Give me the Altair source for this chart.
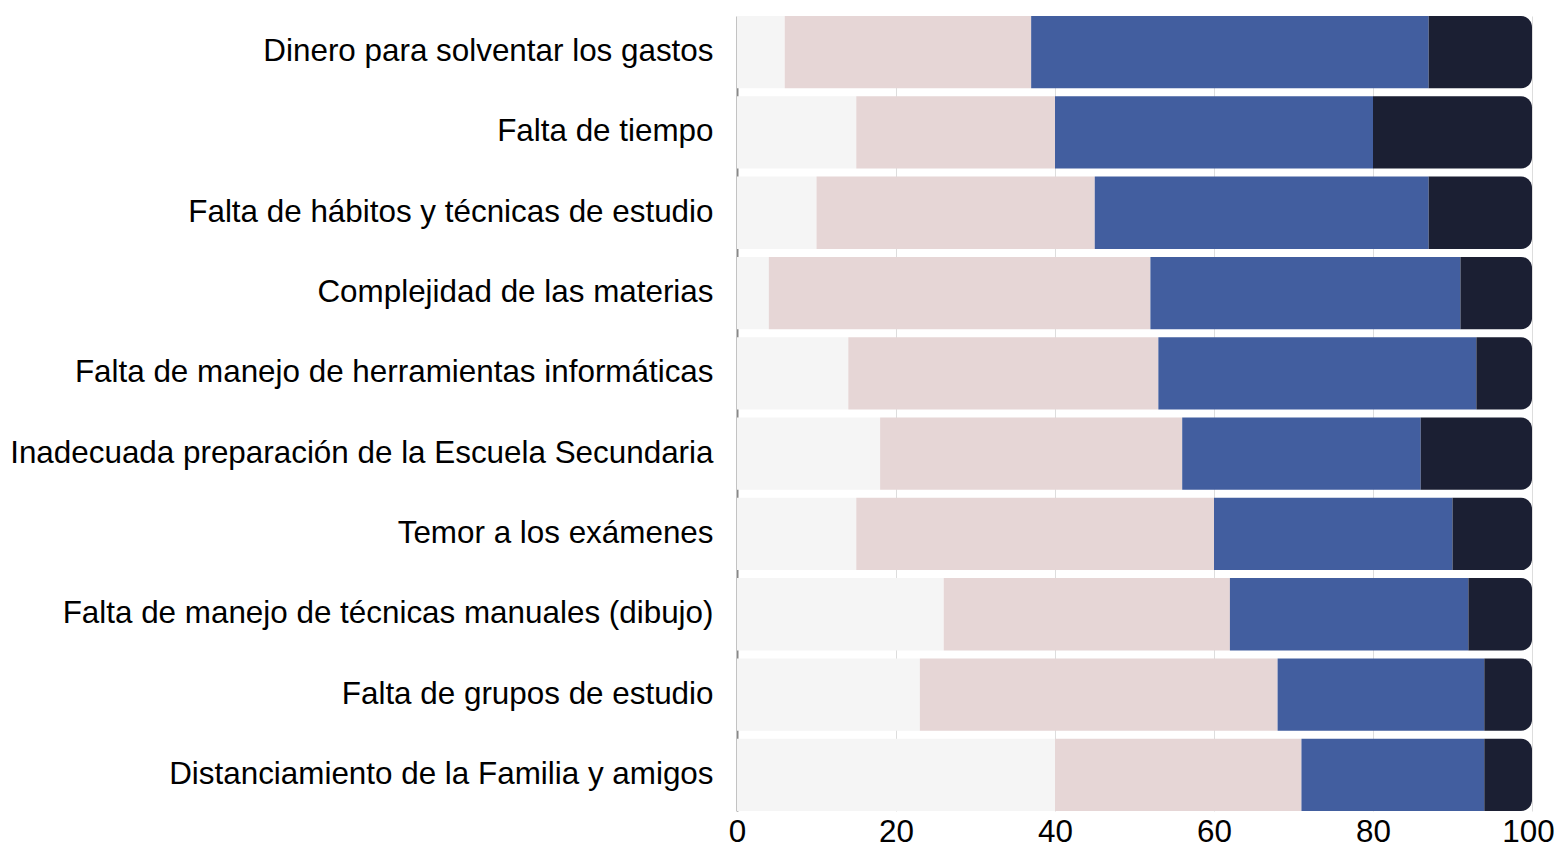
import altair as alt
import pandas as pd

causes = [
    "Dinero para solventar los gastos",
    "Falta de tiempo",
    "Falta de hábitos y técnicas de estudio",
    "Complejidad de las materias",
    "Falta de manejo de herramientas informáticas",
    "Inadecuada preparación de la Escuela Secundaria",
    "Temor a los exámenes",
    "Falta de manejo de técnicas manuales (dibujo)",
    "Falta de grupos de estudio",
    "Distanciamiento de la Familia y amigos",
]
levels = ["Nada", "Poco", "Bastante", "Mucho"]
nada = [6, 15, 10, 4, 14, 18, 15, 26, 23, 40]
poco = [31, 25, 35, 48, 39, 38, 45, 36, 45, 31]
bastante = [50, 40, 42, 39, 40, 30, 30, 30, 26, 23]
mucho = [13, 20, 13, 9, 7, 14, 10, 8, 6, 6]
x_ticks = [0, 20, 40, 60, 80, 100]
colors = ["#f5f5f5", "#e6d6d6", "#425e9f", "#1b1f33"]

rows = []
for i, c in enumerate(causes):
    for j, (lev, vals) in enumerate(zip(levels, [nada, poco, bastante, mucho])):
        rows.append({"cause": c, "level": lev, "order": j, "value": vals[i]})
df = pd.DataFrame(rows)

FONT = "Liberation Sans"

base = alt.Chart(df).transform_stack(
    stack="value", groupby=["cause"], as_=["x0", "x1"], sort=[{"field": "order"}]
)

x = alt.X("x0:Q", scale=alt.Scale(domain=[0, 100], nice=False),
          axis=alt.Axis(values=x_ticks, title=None, domain=False,
                        ticks=False, labelFontSize=31.4, labelFont=FONT, labelColor="#000",
                        labelPadding=5, grid=True, gridColor="#dddddd", gridWidth=1,
                        labelFlush=False,
                        labelOffset={"condition": {"test": "datum.value == 100", "value": -4},
                                     "value": 0}))
y = alt.Y("cause:N", sort=causes, scale=alt.Scale(paddingInner=0.1, paddingOuter=0),
          axis=alt.Axis(title=None, ticks=False, domain=True, domainColor="#888888",
                        domainWidth=2, labelFontSize=31.4, labelFont=FONT, labelColor="#000",
                        labelPadding=24, labelLimit=800))
color = alt.Color("level:N", scale=alt.Scale(domain=levels, range=colors), legend=None)

inner = base.transform_filter(alt.datum.order < 3).mark_bar(strokeWidth=0).encode(
    x=x, x2="x1:Q", y=y, color=color
)
outer = base.transform_filter(alt.datum.order == 3).mark_bar(
    cornerRadiusTopRight=11, cornerRadiusBottomRight=11, strokeWidth=0
).encode(x=x, x2="x1:Q", y=y, color=color)

chart = alt.layer(inner, outer).properties(
    width=795, height=795,
    autosize=alt.AutoSizeParams(type="none"),
    padding={"left": 729, "top": 8, "right": 22, "bottom": 34},
).configure_view(stroke=None)

chart.save("out.html", embed_options={"renderer": "svg", "actions": False})
